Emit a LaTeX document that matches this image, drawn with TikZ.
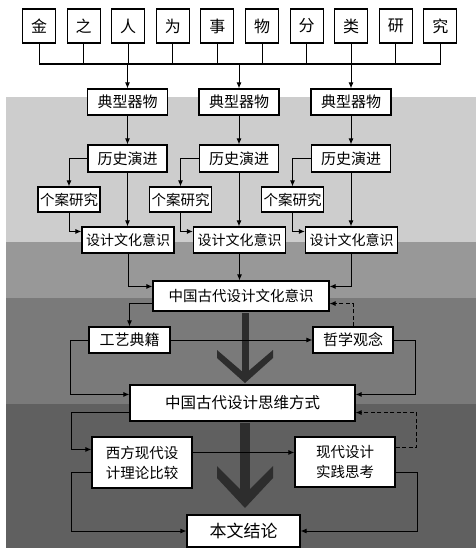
\documentclass[tikz,border=0pt]{standalone}
\usepackage{fontspec}
\newfontfamily\cjk{Noto Sans CJK SC}
\usetikzlibrary{arrows.meta}
\definecolor{bandA}{RGB}{205,205,205}
\definecolor{bandB}{RGB}{152,152,152}
\definecolor{bandC}{RGB}{122,122,122}
\definecolor{bandD}{RGB}{96,96,96}
\definecolor{bigarrow}{RGB}{45,45,45}
\tikzset{
  box/.style={draw, line width=1.1pt, fill=white, inner sep=0pt, align=center, font=\cjk\fontsize{14.5}{17}\selectfont},
  conn/.style={line width=1pt},
  arr/.style={conn, -{Latex[length=6pt,width=5pt]}},
  darr/.style={arr, dashed, dash pattern=on 4pt off 2.5pt},
}
\begin{document}
\begin{tikzpicture}[x=1pt,y=-1pt]
\useasboundingbox (0,0) rectangle (476,551);
% background bands
\fill[white] (0,0) rectangle (476,551);
\fill[bandA] (6,97) rectangle (476,242);
\fill[bandB] (6,242) rectangle (476,298);
\fill[bandC] (6,298) rectangle (476,404);
\fill[bandD] (6,404) rectangle (476,548);
% big decorative arrows
\fill[bigarrow] (241.5,313) rectangle (248.5,376);
\fill[bigarrow] (217,350) -- (245,374) -- (273,350) -- (273,358) -- (245,383) -- (217,358) -- cycle;
\fill[bigarrow] (240,423) rectangle (250,496);
\fill[bigarrow] (217,466) -- (245,494) -- (273,466) -- (273,478) -- (245,508) -- (217,478) -- cycle;
% top row
\foreach \t [count=\i] in {金,之,人,为,事,物,分,类,研,究}{
  \node[box, minimum width=33pt, minimum height=34pt, font=\cjk\fontsize{16}{18}\selectfont] (t\i) at ({39+44.6*(\i-1)},26) {\t};
}
\coordinate (bus) at (0,64);
\draw[conn] (t1.south) |- (bus -| t10.south) -- (t10.south);
\foreach \i in {2,...,9}{ \draw[conn] (t\i.south) -- (t\i.south |- bus); }
% columns
\foreach \c [count=\k] in {127.5,239,351}{
  \node[box, minimum width=80pt, minimum height=26pt, font=\cjk\fontsize{15}{17}\selectfont] (d\k) at (\c,102) {典型器物};
  \node[box, minimum width=79pt, minimum height=27pt, font=\cjk\fontsize{15}{17}\selectfont] (h\k) at (\c,158.5) {历史演进};
  \node[box, minimum width=62pt, minimum height=25pt, font=\cjk\fontsize{14.5}{17}\selectfont] (g\k) at (\c-58.5,199.5) {个案研究};
  \node[box, minimum width=92pt, minimum height=26pt, font=\cjk\fontsize{14}{16}\selectfont] (s\k) at (\c+0.5,240) {设计文化意识};
}
\node[box, minimum width=176pt, minimum height=30pt] (m) at (241,296) {中国古代设计文化意识};
\node[box, minimum width=81pt, minimum height=26pt, font=\cjk\fontsize{15}{17}\selectfont] (gy) at (129.5,340) {工艺典籍};
\node[box, minimum width=80pt, minimum height=26pt, font=\cjk\fontsize{15}{17}\selectfont] (zx) at (353,340) {哲学观念};
\node[box, minimum width=225pt, minimum height=36pt, font=\cjk\fontsize{15.5}{18}\selectfont] (sw) at (242.5,403) {中国古代设计思维方式};
\node[box, minimum width=100pt, minimum height=51pt, font=\cjk\fontsize{14.5}{20}\selectfont] (xf) at (142,462.5) {西方现代设\\计理论比较};
\node[box, minimum width=100pt, minimum height=50pt, font=\cjk\fontsize{14.5}{20}\selectfont] (xd) at (345,462) {现代设计\\实践思考};
\node[box, minimum width=113pt, minimum height=32pt, font=\cjk\fontsize{17}{20}\selectfont] (bj) at (243.5,531) {本文结论};
% column connectors
\foreach \k in {1,2,3}{
  \draw[arr] (bus -| d\k.north) -- (d\k.north);
  \draw[arr] (d\k.south) -- (h\k.north);
  \draw[arr] (h\k.west) -| (g\k.north);
  \draw[arr] (g\k.south) |- ([yshift=-5pt]s\k.north west);
  \draw[arr] (h\k.south) -- (h\k.south |- s\k.north);
}
\draw[arr] (s1.south) |- ([yshift=-6pt]m.north west);
\draw[arr] (s2.south) -- (s2.south |- m.north);
\draw[arr] (s3.south) |- ([yshift=-6pt]m.north east);
\draw[arr] ([yshift=8pt]m.south west) -| (gy.north);
\draw[arr] (gy.east) -- (zx.west);
\draw[darr] (zx.north) |- ([yshift=8pt]m.south east);
\draw[arr] (gy.west) -- ++(-18,0) |- ([yshift=-10pt]sw.north west);
\draw[arr] (zx.east) -- ++(22,0) |- ([yshift=-10pt]sw.north east);
\draw[arr] ([yshift=9pt]sw.south west) -- ++(-58,0) |- ([yshift=-13pt]xf.north west);
\draw[arr] ([yshift=-16pt]xf.north east) -- ([yshift=-16pt]xd.north west);
\draw[darr] ([yshift=-11pt]xd.north east) -- ++(21,0) |- ([yshift=9pt]sw.south east);
\draw[arr] ([yshift=-36pt]xf.north west) -- ++(-20,0) |- (bj.west);
\draw[arr] ([yshift=-36pt]xd.north east) -- ++(22,0) |- (bj.east);
\end{tikzpicture}
\end{document}
